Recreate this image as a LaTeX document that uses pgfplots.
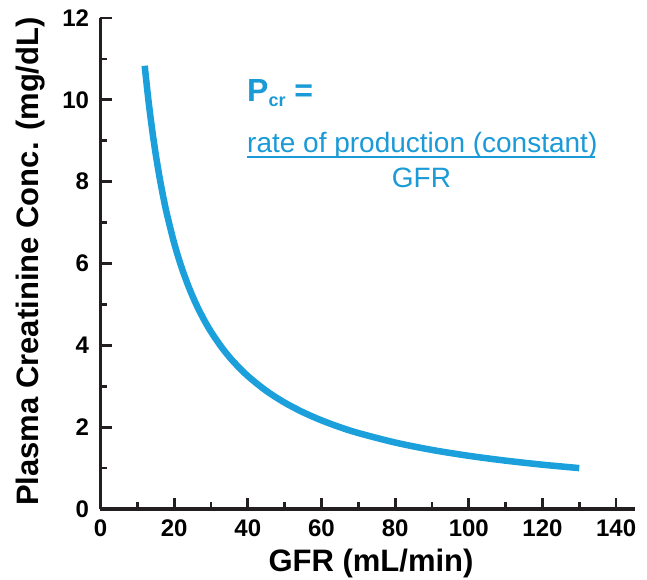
\documentclass[border=0pt]{standalone}
\usepackage{fontspec}
\setmainfont{Liberation Sans}
\usepackage{pgfplots}
\pgfplotsset{compat=1.18}
\definecolor{curveblue}{RGB}{27,160,219}
\definecolor{textblue}{RGB}{26,154,214}
\definecolor{axisblack}{RGB}{35,31,32}
\begin{document}
\begin{tikzpicture}
\path[use as bounding box] (-100.5pt,-70pt) rectangle (546.5pt,509pt);
\begin{axis}[
  at={(0pt,0pt)}, anchor=origin,
  scale only axis,
  width=534pt, height=491pt,
  xmin=0, xmax=145, ymin=0, ymax=12,
  axis x line=bottom, axis y line=left,
  axis line style={-, line width=3.5pt, color=axisblack},
  xtick={0,20,...,140}, ytick={0,2,...,12},
  minor x tick num=1, minor y tick num=1,
  tick align=inside,
  major tick length=11pt, minor tick length=7pt,
  tick style={line width=2.8pt, color=axisblack},
  /pgf/number format/assume math mode=true,
  tick label style={font=\fontsize{24}{24}\selectfont\bfseries, color=black},
  yticklabel style={xshift=-8pt},
  xticklabel style={yshift=-7pt},
  xlabel={GFR (mL/min)},
  ylabel={Plasma Creatinine Conc. (mg/dL)},
  label style={font=\fontsize{31}{31}\selectfont\bfseries},
  xlabel style={at={(axis description cs:0.5066,-0.128)}, anchor=base},
  ylabel style={at={(axis description cs:-0.1152,0.504)}, anchor=base, rotate=0},
  clip=false,
]
\addplot[curveblue, line width=6.5pt, smooth] coordinates {
(12,10.833) (13,10.0) (14,9.286) (15,8.667) (16,8.125) (17,7.647) (18,7.222)
(20,6.5) (22,5.909) (24,5.417) (26,5.0) (28,4.643) (30,4.333) (33,3.939)
(36,3.611) (40,3.25) (45,2.889) (50,2.6) (55,2.364) (60,2.167) (65,2.0)
(70,1.857) (80,1.625) (90,1.444) (100,1.3) (110,1.182) (120,1.083) (130,1.0)
};
\end{axis}
\node[anchor=base west, inner sep=0pt, text=textblue, font=\fontsize{32}{32}\selectfont\bfseries] at (146.5pt,407pt) {P\raisebox{-5pt}{\fontsize{18}{18}\selectfont cr} =};
\node[anchor=base west, inner sep=0pt, text=textblue, font=\fontsize{28}{28}\selectfont] at (146.5pt,356pt) {rate of production (constant)};
\draw[textblue, line width=2.5pt] (146.5pt,352pt) -- (494.5pt,352pt);
\node[anchor=base, inner sep=0pt, text=textblue, font=\fontsize{28}{28}\selectfont] at (321pt,321pt) {GFR};
\end{tikzpicture}
\end{document}
